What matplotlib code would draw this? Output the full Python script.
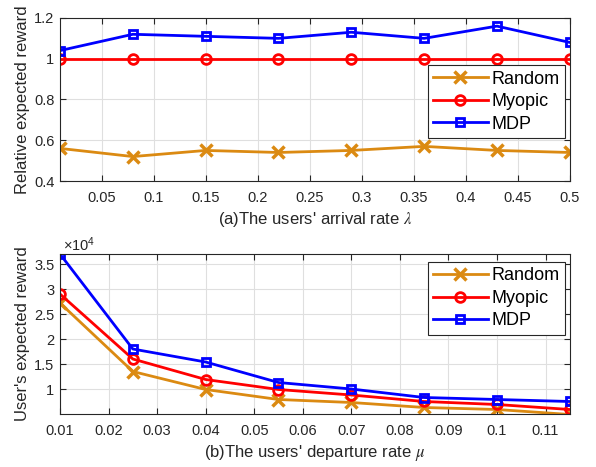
import matplotlib
matplotlib.use('Agg')
import matplotlib.pyplot as plt

plt.rcParams['font.family'] = ['Liberation Sans', 'DejaVu Sans']
plt.rcParams['mathtext.fontset'] = 'stix'

# data
lam = [0.01, 0.08, 0.15, 0.22, 0.29, 0.36, 0.43, 0.5]
random_a = [0.56, 0.52, 0.55, 0.54, 0.55, 0.57, 0.55, 0.54]
myopic_a = [1.0, 1.0, 1.0, 1.0, 1.0, 1.0, 1.0, 1.0]
mdp_a = [1.04, 1.12, 1.11, 1.10, 1.13, 1.10, 1.16, 1.08]

mu = [0.01, 0.025, 0.04, 0.055, 0.07, 0.085, 0.1, 0.115]
random_b = [2.72, 1.35, 0.99, 0.79, 0.73, 0.63, 0.59, 0.49]   # x 1e4
myopic_b = [2.9, 1.6, 1.19, 0.99, 0.88, 0.75, 0.69, 0.59]
mdp_b = [3.7, 1.8, 1.54, 1.13, 1.0, 0.83, 0.79, 0.75]

c_rand = '#DB8A12'
c_myo = '#FF0000'
c_mdp = '#0000FF'
txt = '#262626'

fig = plt.figure(figsize=(5.96, 4.67), dpi=100)
ax1 = fig.add_axes([0.1007, 0.6124, 0.8553, 0.3491])
ax2 = fig.add_axes([0.1007, 0.1135, 0.8553, 0.3425])

def style(ax):
    ax.grid(True, color='#DFDFDF', linewidth=0.8)
    ax.set_axisbelow(True)
    ax.tick_params(direction='in', top=True, right=True, labelsize=10.5,
                   colors=txt, length=4)
    ax.tick_params(axis='x', pad=7)
    ax.tick_params(axis='y', pad=4)
    for s in ax.spines.values():
        s.set_color(txt)
        s.set_linewidth(0.8)

def legend(ax, y):
    leg = ax.legend(loc='upper right', bbox_to_anchor=(0.99, y), fontsize=13,
                    fancybox=False, edgecolor=txt, framealpha=1, handlelength=3.0,
                    borderpad=0.3, labelspacing=0.3, handletextpad=0.2,
                    borderaxespad=0)
    leg.get_frame().set_linewidth(0.8)

lw = 2
ax1.plot(lam, random_a, color=c_rand, lw=lw, marker='x', ms=8, mew=2.5, label='Random')
ax1.plot(lam, myopic_a, color=c_myo, lw=lw, marker='o', ms=7, mfc='none', mew=2, label='Myopic')
ax1.plot(lam, mdp_a, color=c_mdp, lw=lw, marker='s', ms=6, mfc='none', mew=2, label='MDP')
ax1.set_xlim(0.01, 0.5)
ax1.set_ylim(0.4, 1.2)
ax1.set_xticks([0.05, 0.1, 0.15, 0.2, 0.25, 0.3, 0.35, 0.4, 0.45, 0.5])
ax1.set_xticklabels(['0.05', '0.1', '0.15', '0.2', '0.25', '0.3', '0.35', '0.4', '0.45', '0.5'])
ax1.set_yticks([0.4, 0.6, 0.8, 1.0, 1.2])
ax1.set_yticklabels(['0.4', '0.6', '0.8', '1', '1.2'])
ax1.set_xlabel("(a)The users' arrival rate $\\lambda$", fontsize=12, color=txt, labelpad=4)
ax1.set_ylabel('Relative expected reward', fontsize=12, color=txt, labelpad=3)
style(ax1)
legend(ax1, 0.71)

ax2.plot(mu, random_b, color=c_rand, lw=lw, marker='x', ms=8, mew=2.5, label='Random')
ax2.plot(mu, myopic_b, color=c_myo, lw=lw, marker='o', ms=7, mfc='none', mew=2, label='Myopic')
ax2.plot(mu, mdp_b, color=c_mdp, lw=lw, marker='s', ms=6, mfc='none', mew=2, label='MDP')
ax2.set_xlim(0.01, 0.115)
ax2.set_ylim(0.5, 3.7)
ax2.set_xticks([0.01, 0.02, 0.03, 0.04, 0.05, 0.06, 0.07, 0.08, 0.09, 0.1, 0.11])
ax2.set_xticklabels(['0.01', '0.02', '0.03', '0.04', '0.05', '0.06', '0.07', '0.08', '0.09', '0.1', '0.11'])
ax2.set_yticks([1, 1.5, 2, 2.5, 3, 3.5])
ax2.set_yticklabels(['1', '1.5', '2', '2.5', '3', '3.5'])
ax2.set_xlabel("(b)The users' departure rate $\\mu$", fontsize=12, color=txt, labelpad=4)
ax2.set_ylabel("User's expected reward", fontsize=12, color=txt, labelpad=3)
ax2.text(0.005, 1.0, '$\\mathregular{\\times10^4}$', transform=ax2.transAxes, fontsize=10.5,
         color=txt, ha='left', va='bottom')
style(ax2)
legend(ax2, 0.95)

plt.savefig('out.png', dpi=100)
